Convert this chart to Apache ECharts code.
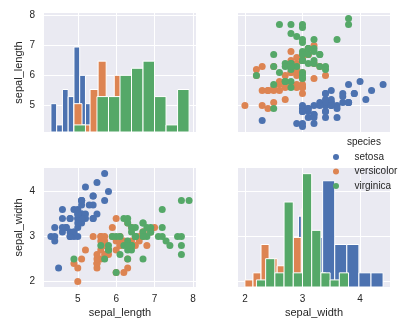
<!DOCTYPE html>
<html>
<head>
<meta charset="utf-8">
<script src="https://cdn.jsdelivr.net/npm/echarts@6/dist/echarts.min.js"></script>
<style>
  html, body { margin: 0; padding: 0; background: #ffffff; }
  #chart { width: 403px; height: 323px; }
</style>
</head>
<body>
<div id="chart"></div>
<script>
// Iris measurements, per species
const species = ['setosa', 'versicolor', 'virginica'];

const setosaSL = [5.1,4.9,4.7,4.6,5.0,5.4,4.6,5.0,4.4,4.9,5.4,4.8,4.8,4.3,5.8,5.7,5.4,5.1,5.7,5.1,5.4,5.1,4.6,5.1,4.8,5.0,5.0,5.2,5.2,4.7,4.8,5.4,5.2,5.5,4.9,5.0,5.5,4.9,4.4,5.1,5.0,4.5,4.4,5.0,5.1,4.8,5.1,4.6,5.3,5.0];
const setosaSW = [3.5,3.0,3.2,3.1,3.6,3.9,3.4,3.4,2.9,3.1,3.7,3.4,3.0,3.0,4.0,4.4,3.9,3.5,3.8,3.8,3.4,3.7,3.6,3.3,3.4,3.0,3.4,3.5,3.4,3.2,3.1,3.4,4.1,4.2,3.1,3.2,3.5,3.6,3.0,3.4,3.5,2.3,3.2,3.5,3.8,3.0,3.8,3.2,3.7,3.3];

const versicolorSL = [7.0,6.4,6.9,5.5,6.5,5.7,6.3,4.9,6.6,5.2,5.0,5.9,6.0,6.1,5.6,6.7,5.6,5.8,6.2,5.6,5.9,6.1,6.3,6.1,6.4,6.6,6.8,6.7,6.0,5.7,5.5,5.5,5.8,6.0,5.4,6.0,6.7,6.3,5.6,5.5,5.5,6.1,5.8,5.0,5.6,5.7,5.7,6.2,5.1,5.7];
const versicolorSW = [3.2,3.2,3.1,2.3,2.8,2.8,3.3,2.4,2.9,2.7,2.0,3.0,2.2,2.9,2.9,3.1,3.0,2.7,2.2,2.5,3.2,2.8,2.5,2.8,2.9,3.0,2.8,3.0,2.9,2.6,2.4,2.4,2.7,2.7,3.0,3.4,3.1,2.3,3.0,2.5,2.6,3.0,2.6,2.3,2.7,3.0,2.9,2.9,2.5,2.8];

const virginicaSL = [6.3,5.8,7.1,6.3,6.5,7.6,4.9,7.3,6.7,7.2,6.5,6.4,6.8,5.7,5.8,6.4,6.5,7.7,7.7,6.0,6.9,5.6,7.7,6.3,6.7,7.2,6.2,6.1,6.4,7.2,7.4,7.9,6.4,6.3,6.1,7.7,6.3,6.4,6.0,6.9,6.7,6.9,5.8,6.8,6.7,6.7,6.3,6.5,6.2,5.9];
const virginicaSW = [3.3,2.7,3.0,2.9,3.0,3.0,2.5,2.9,2.5,3.6,3.2,2.7,3.0,2.5,2.8,3.2,3.0,3.8,2.6,2.2,3.2,2.8,2.8,2.7,3.3,3.2,2.8,3.0,2.8,3.0,2.8,3.8,2.8,2.8,2.6,3.0,3.4,3.1,3.0,3.1,3.1,3.1,2.7,3.2,3.3,3.0,2.5,3.0,3.4,3.0];

// Histogram bins (10 per species) and counts
const setosaSLEdges = [4.3,4.45,4.6,4.75,4.9,5.05,5.2,5.35,5.5,5.65,5.8];
const setosaSLCounts = [4,1,6,5,12,8,4,5,2,3];
const versicolorSLEdges = [4.9,5.11,5.32,5.53,5.74,5.95,6.16,6.37,6.58,6.79,7.0];
const versicolorSLCounts = [4,1,6,10,5,8,5,3,5,3];
const virginicaSLEdges = [4.9,5.2,5.5,5.8,6.1,6.4,6.7,7.0,7.3,7.6,7.9];
const virginicaSLCounts = [1,0,5,5,8,9,10,5,1,6];

const setosaSWEdges = [2.3,2.51,2.72,2.93,3.14,3.35,3.56,3.77,3.98,4.19,4.4];
const setosaSWCounts = [1,0,1,10,7,15,6,6,2,2];
const versicolorSWEdges = [2.0,2.14,2.28,2.42,2.56,2.7,2.84,2.98,3.12,3.26,3.4];
const versicolorSWCounts = [1,2,6,4,3,11,7,11,3,2];
const virginicaSWEdges = [2.2,2.36,2.52,2.68,2.84,3.0,3.16,3.32,3.48,3.64,3.8];
const virginicaSWCounts = [1,4,2,12,2,16,8,2,1,2];

// Axis ticks and limits
const slTicks = [5, 6, 7, 8];
const swTicks = [2, 3, 4];
const slRange = [4.12, 8.08];
const swRange = [1.88, 4.52];
const countRange = [0, 16.8];

const colors = ['#4C72B0', '#DD8452', '#55A868'];
const FONT = '"Liberation Sans", Arial, sans-serif';
const TEXT = '#262626';
const BG = '#EAEAF2';

function zip(a, b) { return a.map((v, i) => [v, b[i]]); }
function bins(edges, counts) {
  const out = [];
  counts.forEach((c, i) => { if (c > 0) out.push([edges[i], edges[i + 1], c]); });
  return out;
}

function valueAxis(grid, range, ticks, opts) {
  return Object.assign({
    type: 'value', gridIndex: grid, min: range[0], max: range[1],
    axisLine: { show: false },
    axisTick: { show: false, customValues: ticks },
    axisLabel: { show: false, customValues: ticks, color: TEXT, fontSize: 10, fontFamily: FONT },
    splitLine: { show: true, lineStyle: { color: '#ffffff', width: 1 } },
    nameTextStyle: { color: TEXT, fontSize: 11, fontFamily: FONT },
    nameLocation: 'middle', nameGap: 20
  }, opts || {});
}

const G = { w: 152, h: 119 };
const grids = [
  { left: 44, top: 13 }, { left: 238, top: 13 },
  { left: 44, top: 168 }, { left: 238, top: 168 }
].map(g => ({ left: g.left, top: g.top, width: G.w, height: G.h, show: true,
  backgroundColor: BG, borderWidth: 0, containLabel: false }));

const xAxes = [
  valueAxis(0, slRange, slTicks),
  valueAxis(1, swRange, swTicks),
  valueAxis(2, slRange, slTicks, { name: 'sepal_length' }),
  valueAxis(3, swRange, swTicks, { name: 'sepal_width' })
];
xAxes[2].axisLabel = Object.assign({}, xAxes[2].axisLabel, { show: true, margin: 7 });
xAxes[3].axisLabel = Object.assign({}, xAxes[3].axisLabel, { show: true, margin: 7 });

const yAxes = [
  valueAxis(0, slRange, slTicks, { name: 'sepal_length' }),
  valueAxis(1, slRange, slTicks),
  valueAxis(2, swRange, swTicks, { name: 'sepal_width' }),
  valueAxis(3, swRange, swTicks),
  // hidden count axes for the diagonal histograms (shared scale)
  { type: 'value', gridIndex: 0, min: countRange[0], max: countRange[1], show: false, splitLine: { show: false } },
  { type: 'value', gridIndex: 3, min: countRange[0], max: countRange[1], show: false, splitLine: { show: false } }
];
yAxes[0].axisLabel = Object.assign({}, yAxes[0].axisLabel, { show: true, margin: 9 });
yAxes[2].axisLabel = Object.assign({}, yAxes[2].axisLabel, { show: true, margin: 9 });

function histSeries(name, color, xIdx, yIdx, data) {
  return {
    name: name, type: 'custom', xAxisIndex: xIdx, yAxisIndex: yIdx,
    itemStyle: { color: color }, clip: true, silent: true,
    encode: { x: [0, 1], y: 2 },
    data: data,
    renderItem: function (params, api) {
      const p0 = api.coord([api.value(0), 0]);
      const p1 = api.coord([api.value(1), api.value(2)]);
      return {
        type: 'rect',
        shape: { x: p0[0], y: p1[1], width: p1[0] - p0[0], height: p0[1] - p1[1] },
        style: { fill: color, stroke: '#ffffff', lineWidth: 1 }
      };
    }
  };
}

function scatterSeries(name, color, xIdx, yIdx, data) {
  return {
    name: name, type: 'scatter', xAxisIndex: xIdx, yAxisIndex: yIdx,
    symbolSize: 7, itemStyle: { color: color, opacity: 1 }, silent: true,
    data: data
  };
}

const SL = [setosaSL, versicolorSL, virginicaSL];
const SW = [setosaSW, versicolorSW, virginicaSW];
const slHist = [bins(setosaSLEdges, setosaSLCounts), bins(versicolorSLEdges, versicolorSLCounts), bins(virginicaSLEdges, virginicaSLCounts)];
const swHist = [bins(setosaSWEdges, setosaSWCounts), bins(versicolorSWEdges, versicolorSWCounts), bins(virginicaSWEdges, virginicaSWCounts)];

const series = [];
species.forEach((s, i) => {
  series.push(histSeries(s, colors[i], 0, 4, slHist[i]));
  series.push(scatterSeries(s, colors[i], 1, 1, zip(SW[i], SL[i])));
  series.push(scatterSeries(s, colors[i], 2, 2, zip(SL[i], SW[i])));
  series.push(histSeries(s, colors[i], 3, 5, swHist[i]));
});

const chart = echarts.init(document.getElementById('chart'), null, { renderer: 'canvas' });
chart.setOption({
  animation: false,
  backgroundColor: '#ffffff',
  textStyle: { fontFamily: FONT },
  title: {
    text: 'species', left: 347, top: 137, padding: 0,
    textStyle: { color: TEXT, fontSize: 10, fontWeight: 'normal', fontFamily: FONT }
  },
  legend: {
    data: species, orient: 'vertical', left: 333, top: 151, padding: 0,
    icon: 'circle', itemWidth: 27, itemHeight: 6, itemGap: 2.5,
    selectedMode: false,
    textStyle: { color: TEXT, fontSize: 10, lineHeight: 12, fontFamily: FONT }
  },
  grid: grids,
  xAxis: xAxes,
  yAxis: yAxes,
  series: series
});
</script>
</body>
</html>
